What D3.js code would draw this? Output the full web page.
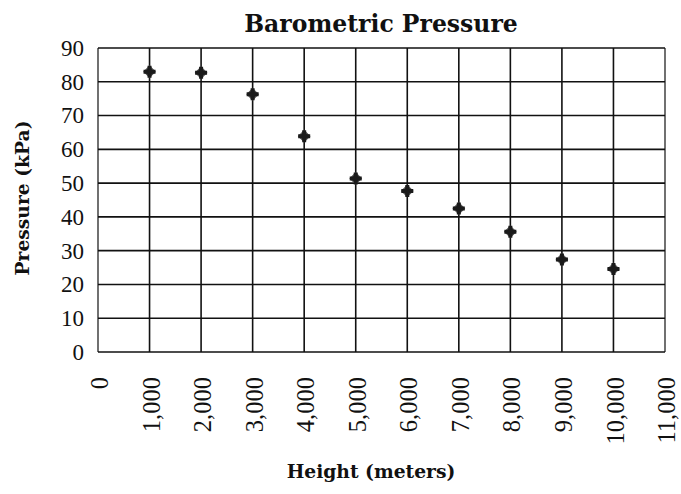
<!DOCTYPE html>
<html><head><meta charset="utf-8">
<script src="https://cdn.jsdelivr.net/npm/d3@7"></script>
<style>body{margin:0;background:#fff;} svg{display:block;} text{font-family:"Liberation Serif","Times New Roman",serif;fill:#111;}</style>
</head><body>
<svg id="c" width="681" height="494"></svg>
<script>
const heights = [1000,2000,3000,4000,5000,6000,7000,8000,9000,10000];
const pressures = [83,82.7,76.3,63.9,51.4,47.7,42.5,35.6,27.4,24.6];
const xTicks = [0,1000,2000,3000,4000,5000,6000,7000,8000,9000,10000,11000];
const yTicks = [0,10,20,30,40,50,60,70,80,90];
const title = "Barometric Pressure";
const xTitle = "Height (meters)";
const yTitle = "Pressure (kPa)";

const svg = d3.select("#c");
const m = {left:98, right:665, top:48, bottom:352};
const x = d3.scaleLinear().domain([0,11000]).range([m.left,m.right]);
const y = d3.scaleLinear().domain([0,90]).range([m.bottom,m.top]);

// grid
svg.append("g").selectAll("line.h").data(yTicks).join("line")
  .attr("x1",m.left).attr("x2",m.right).attr("y1",d=>y(d)).attr("y2",d=>y(d))
  .attr("stroke","#111").attr("stroke-width",1.6);
svg.append("g").selectAll("line.v").data(xTicks).join("line")
  .attr("y1",m.top).attr("y2",m.bottom).attr("x1",d=>x(d)).attr("x2",d=>x(d))
  .attr("stroke","#111").attr("stroke-width",d=>(d===0||d===11000)?1.2:1.6);

// y axis labels
const ya = svg.append("g").attr("transform",`translate(${m.left},0)`)
  .call(d3.axisLeft(y).tickValues(yTicks).tickSize(0).tickPadding(14));
ya.select(".domain").remove();
ya.selectAll("text").style("font-size","23px").style("font-family",'"Liberation Serif",serif').attr("fill","#111");

// x axis labels (rotated)
const xa = svg.append("g").attr("transform",`translate(0,${m.bottom})`)
  .call(d3.axisBottom(x).tickValues(xTicks).tickSize(0).tickFormat(d3.format(",")));
xa.select(".domain").remove();
xa.selectAll("text").style("font-size","24.5px").style("font-family",'"Liberation Serif",serif').attr("fill","#111")
  .attr("transform","rotate(-90)").attr("text-anchor","end").attr("x",-25).attr("y",1).attr("dy","0.35em");

// points: rotated square (diamond) with cross
const sym = d3.symbol().type(d3.symbolSquare).size(64);
svg.append("g").selectAll("path").data(heights).join("path")
  .attr("d",sym).attr("transform",(d,i)=>`translate(${x(d)},${y(pressures[i])}) rotate(45)`)
  .attr("fill","#2a2a2a").attr("stroke","#555").attr("stroke-width",1);
svg.append("g").selectAll("path").data(heights).join("path")
  .attr("d",d3.symbol().type(d3.symbolCross).size(80))
  .attr("transform",(d,i)=>`translate(${x(d)},${y(pressures[i])})`)
  .attr("fill","#1a1a1a");

// titles
svg.append("text").attr("x",381).attr("y",32).attr("text-anchor","middle")
  .style("font-family",'"DejaVu Serif",serif')
  .style("font-size","23.5px").style("font-weight","bold").text(title);
svg.append("text").attr("x",371).attr("y",478).attr("text-anchor","middle")
  .style("font-family",'"DejaVu Serif",serif')
  .style("font-size","18.7px").style("font-weight","bold").text(xTitle);
svg.append("text").attr("transform","translate(29,198) rotate(-90)").attr("text-anchor","middle")
  .style("font-family",'"DejaVu Serif",serif')
  .style("font-size","18.7px").style("font-weight","bold").text(yTitle);
</script>
</body></html>
